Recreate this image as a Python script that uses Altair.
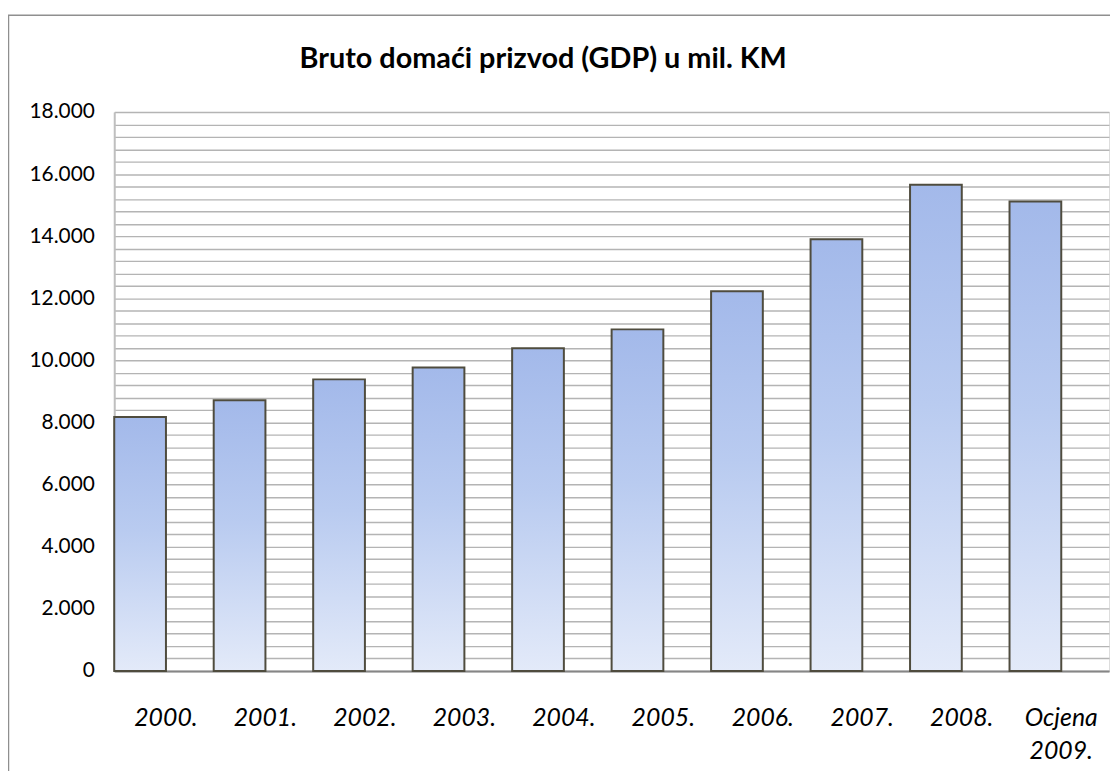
import altair as alt
import pandas as pd

categories = ["2000.", "2001.", "2002.", "2003.", "2004.", "2005.", "2006.", "2007.", "2008.", "Ocjena\n2009."]
gdp = [8180, 8720, 9390, 9770, 10390, 11000, 12230, 13900, 15660, 15120]
title_text = ["Bruto domaći prizvod (GDP) u mil. KM"]
y_label_step = 2000
y_grid_step = 400
y_max = 18000

df = pd.DataFrame({"cat": categories, "gdp": gdp})
tdf = pd.DataFrame({"t": title_text})

W, H = 1002, 563
FONT = "Lato"

grad = alt.Gradient(
    gradient="linear",
    x1=0, x2=0, y1=0, y2=1,
    stops=[
        alt.GradientStop(color="#a3b9ea", offset=0),
        alt.GradientStop(color="#b9cbf0", offset=0.45),
        alt.GradientStop(color="#e3eaf9", offset=1),
    ],
)

x_enc = alt.X(
    "cat:N",
    sort=categories,
    scale=alt.Scale(paddingInner=0.48, paddingOuter=0.24, align=0),
    axis=alt.Axis(
        title=None,
        labelAngle=0,
        labelExpr="split(datum.label, '\\n')",
        labelFont=FONT,
        labelFontStyle="italic",
        labelFontSize=25,
        labelColor="#000000",
        labelPadding=35,
        labelOffset=26,
        labelLineHeight=33,
        ticks=False,
        domainColor="#868686",
        domainWidth=2,
        grid=False,
    ),
)

y_enc = alt.Y(
    "gdp:Q",
    scale=alt.Scale(domain=[0, y_max], nice=False),
    axis=alt.Axis(
        title=None,
        values=list(range(0, y_max + 1, y_grid_step)),
        labelExpr=f"datum.value % {y_label_step} == 0 ? replace(format(datum.value, ','), ',', '.') : ''",
        labelFont=FONT,
        labelFontSize=21,
        labelColor="#000000",
        labelPadding=20,
        ticks=False,
        domainColor="#bfbfbf",
        domainWidth=2,
        grid=True,
        gridColor="#b4b4b4",
        gridWidth=1.4,
    ),
)

frame = alt.Chart(tdf).mark_rect(
    fill=None, stroke="#8f8f8f", strokeWidth=1.5, clip=False
).encode(
    x=alt.value(-106.5), x2=alt.value(W + 60),
    y=alt.value(-97.5), y2=alt.value(H + 200),
)

title = alt.Chart(tdf).mark_text(
    font=FONT, fontSize=29, fontWeight="bold", color="#000000",
    align="center", baseline="middle",
).encode(
    text="t:N",
    x=alt.value(432), y=alt.value(-53),
)

bars = alt.Chart(df).mark_bar(
    color=grad, stroke="#4f4c3e", strokeWidth=2, cornerRadius=0
).encode(x=x_enc, y=y_enc)

chart = alt.layer(bars, frame, title).properties(
    width=W,
    height=H,
    autosize=alt.AutoSizeParams(type="none"),
    padding={"left": 107, "top": 102, "right": 1, "bottom": 98},
).configure_view(
    stroke="#b4b4b4", strokeWidth=1.4
).configure(background="#ffffff")

chart.save("out.html", embed_options={"renderer": "svg", "actions": False})
